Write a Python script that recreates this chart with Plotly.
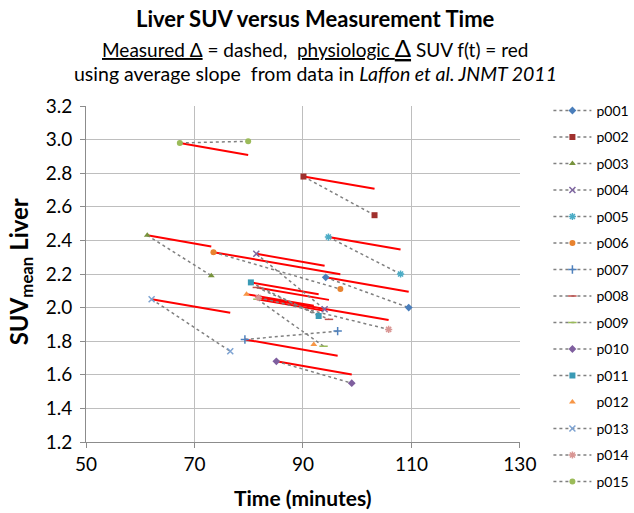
import plotly.graph_objects as go

patients = ["p001", "p002", "p003", "p004", "p005", "p006", "p007", "p008",
            "p009", "p010", "p011", "p012", "p013", "p014", "p015"]
t_first = [94.2, 90.1, 61.3, 81.4, 94.7, 73.5, 79.3, 81.5, 81.6, 85.1, 80.4, 79.6, 62.1, 81.8, 67.3]
t_second = [109.5, 103.2, 73.1, 94.0, 108.0, 96.9, 96.4, 94.8, 93.8, 99.0, 92.9, 92.0, 76.6, 105.8, 79.9]
suv_first = [2.18, 2.78, 2.43, 2.32, 2.42, 2.33, 1.81, 2.12, 2.05, 1.68, 2.15, 2.08, 2.05, 2.06, 2.98]
suv_second = [2.00, 2.55, 2.19, 1.99, 2.20, 2.11, 1.86, 1.93, 1.77, 1.55, 1.95, 1.78, 1.74, 1.87, 2.99]
# physiologic (average-slope) SUV at the second time point
suv_physio_end = [2.094, 2.707, 2.364, 2.249, 2.346, 2.199, 1.714, 2.046, 1.982, 1.602,
                  2.080, 2.011, 1.969, 1.926, 2.909]

symbols = ["diamond", "square", "triangle-up", "x-thin-open", "asterisk-open", "circle",
           "cross-thin-open", "line-ew-open", "line-ew-open", "diamond", "square",
           "triangle-up", "x-thin-open", "asterisk-open", "circle"]
colors = ["#4A7EBB", "#A0302D", "#77933C", "#7E65A0", "#4BACC6", "#E8822E",
          "#4F81BD", "#C0504D", "#9BBB59", "#7F5F9F", "#3A9AB5", "#F79646",
          "#7EA3D2", "#D99694", "#9BBB59"]
line_modes = ["lines+markers"] * 11 + ["markers"] + ["lines+markers"] * 3

x_ticks = [50, 70, 90, 110, 130]
y_ticks = [1.2, 1.4, 1.6, 1.8, 2.0, 2.2, 2.4, 2.6, 2.8, 3.0, 3.2]

FONT = "Lato"
fig = go.Figure()

# red physiologic lines (drawn first, not in legend)
for i, p in enumerate(patients):
    fig.add_trace(go.Scatter(
        x=[t_first[i], t_second[i]], y=[suv_first[i], suv_physio_end[i]],
        mode="lines", line=dict(color="#FF0000", width=2),
        showlegend=False, hoverinfo="skip"))

# measured data, dashed
for i, p in enumerate(patients):
    open_sym = symbols[i].endswith("open")
    fig.add_trace(go.Scatter(
        x=[t_first[i], t_second[i]], y=[suv_first[i], suv_second[i]],
        mode=line_modes[i], name=p, legendgroup=p,
        line=dict(color="#808080", width=1.5, dash="dot"),
        marker=dict(symbol=symbols[i], color=colors[i], size=6,
                    line=dict(color=colors[i], width=1.5 if open_sym else 0))))

fig.update_layout(
    width=634, height=513,
    margin=dict(l=86, r=111, t=106, b=71),
    paper_bgcolor="white", plot_bgcolor="white",
    font=dict(family=FONT, color="black"),
    showlegend=True,
    legend=dict(xref="container", yref="container", x=0.865, y=0.815,
                xanchor="left", yanchor="top", font=dict(size=14, family=FONT),
                itemwidth=38, tracegroupgap=5.3, maxheight=480,
                bgcolor="rgba(0,0,0,0)"),
    xaxis=dict(range=[50, 130], tickvals=x_ticks, showgrid=True, gridcolor="#BEBEBE",
               gridwidth=1, showline=True, linecolor="#8C8C8C", linewidth=1,
               ticks="outside", ticklen=5, tickcolor="#8C8C8C",
               tickfont=dict(size=19, family=FONT), zeroline=False),
    yaxis=dict(range=[1.2, 3.2], tickvals=y_ticks, tickformat=".1f", showgrid=True,
               gridcolor="#BEBEBE", gridwidth=1, showline=True, linecolor="#8C8C8C",
               linewidth=1, ticks="outside", ticklen=5, tickcolor="#8C8C8C",
               tickfont=dict(size=19, family=FONT), zeroline=False,
               ticklabelstandoff=4),
)

cx = (317 - 86.4) / 436.6
ann = [
    dict(text="<b>Liver SUV versus Measurement Time</b>", x=cx, y=18, size=22),
    dict(text="<span style='text-decoration:underline'>Measured Δ</span> = dashed,  "
              "<span style='text-decoration:underline'>physiologic <span style='font-size:24px'>Δ</span></span> SUV f(t) = red",
         x=cx, y=47, size=19),
    dict(text="using average slope  from data in <i>Laffon et al. JNMT 2011</i>",
         x=cx, y=73, size=19.5),
    dict(text="<b>Time (minutes)</b>", x=0.5, y=497, size=21),
]
for a in ann:
    fig.add_annotation(text=a["text"], xref="paper", yref="paper",
                       x=a["x"], y=(441.7 - a["y"]) / 336.0,
                       showarrow=False, xanchor="center", yanchor="middle",
                       font=dict(size=a["size"], family=FONT, color="black"))
fig.add_annotation(text="<b>SUV<sub>mean</sub> Liver</b>", xref="paper", yref="paper",
                   x=(20 - 86.4) / 436.6, y=(441.7 - 272) / 336.0, textangle=-90,
                   showarrow=False, xanchor="center", yanchor="middle",
                   font=dict(size=24, family=FONT, color="black"))

fig.write_html("out.html")
